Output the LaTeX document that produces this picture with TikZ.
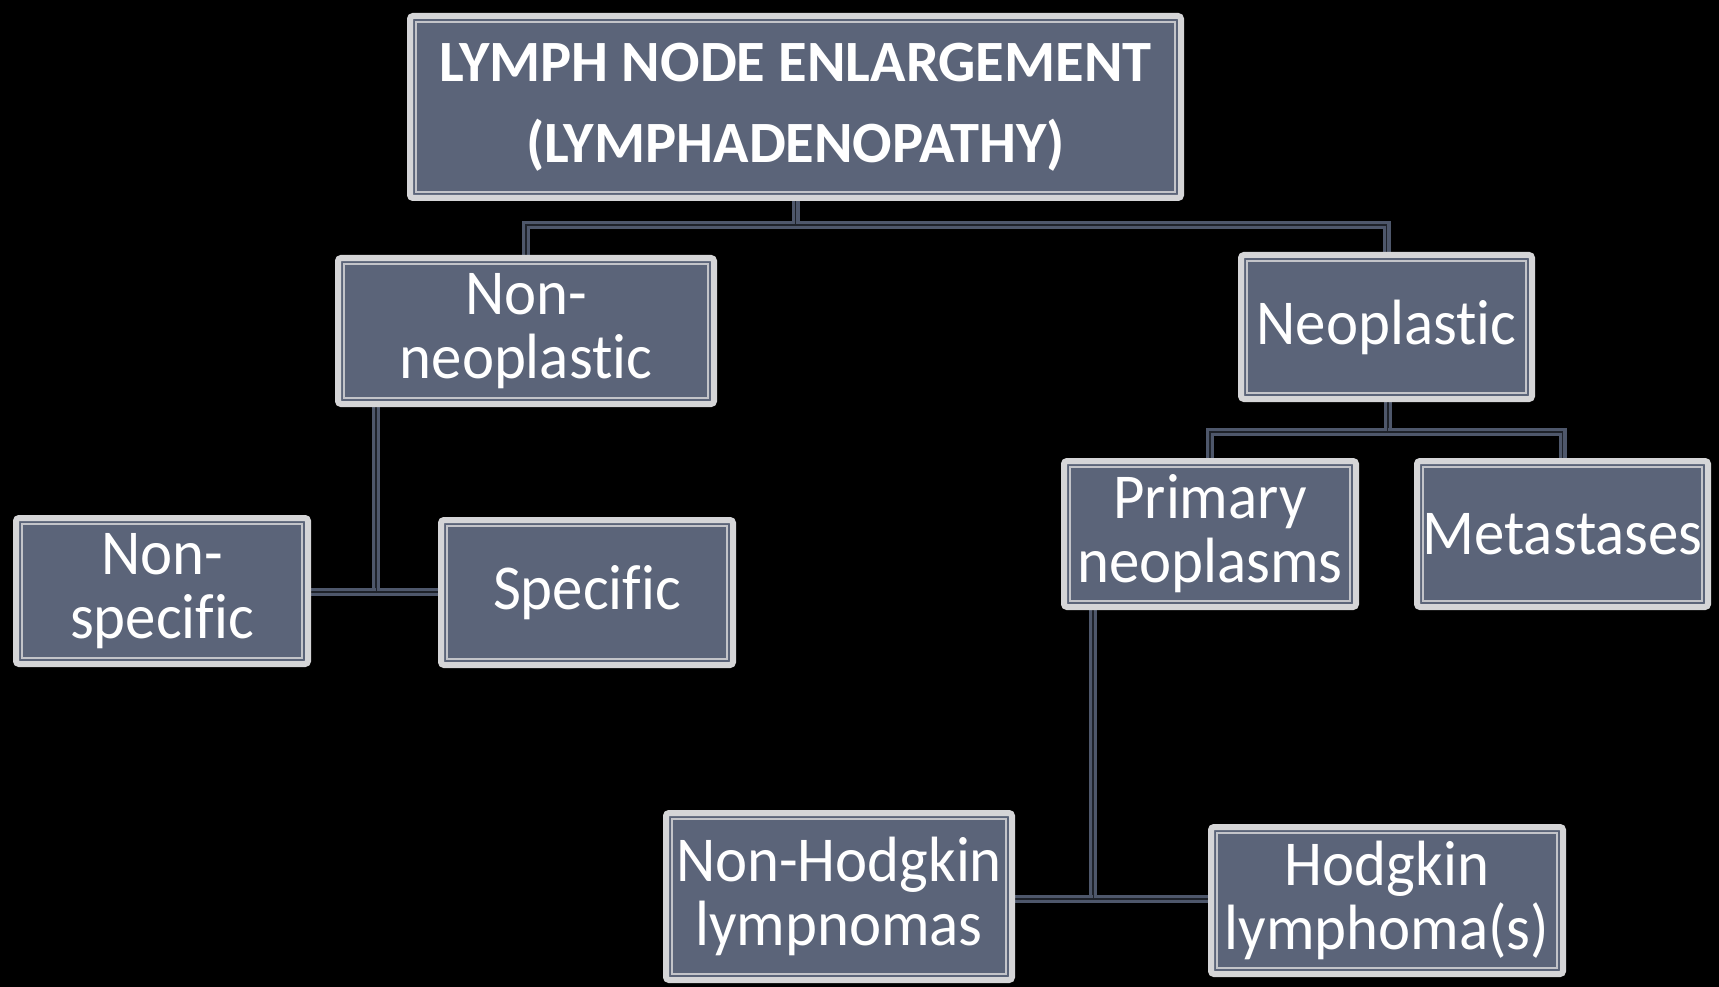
\documentclass[tikz,border=0pt]{standalone}
\usepackage{fontspec}
\setmainfont[Ligatures=NoCommon]{Carlito}
\newfontfamily\bodyfont[FakeStretch=0.95,Ligatures=NoCommon]{Carlito}
\definecolor{slate}{HTML}{5B6479}
\definecolor{rim}{HTML}{D5D5D7}
\definecolor{connC}{HTML}{4E576B}
\definecolor{gapC}{HTML}{1E222A}
\pgfdeclarelayer{bg}
\pgfdeclarelayer{conns}
\pgfsetlayers{bg,conns,main}
\begin{document}
\begin{tikzpicture}[x=1pt,y=-1pt,
 box/.style={fill=slate, draw=rim, line width=6pt, rounded corners=3pt, outer sep=0pt, inner sep=0pt,
   align=center, text=white, font=\bodyfont\fontsize{64}{64}\selectfont},
 innerline/.style={draw=rim!85!slate, line width=1.5pt},
 conn/.style={draw=connC, double=gapC, double distance=1.4pt, line width=3.3pt}]
\begin{pgfonlayer}{bg}
\fill[black] (0,0) rectangle (1719,987);
\end{pgfonlayer}
\useasboundingbox (0,0) rectangle (1719,987);

\node[box, minimum width=771, minimum height=182, font=\fontsize{58.5}{81}\selectfont\bfseries] (title) at (795.5,107) {LYMPH NODE ENLARGEMENT\\(LYMPHADENOPATHY)};
\node[box, minimum width=376, minimum height=146] (nonneo) at (526,331) {Non-\\neoplastic};
\node[box, minimum width=291, minimum height=144] (neo) at (1386.5,327) {Neoplastic};
\node[box, minimum width=292, minimum height=146] (nonspec) at (162,591) {Non-\\specific};
\node[box, minimum width=292, minimum height=145] (spec) at (587,592.5) {Specific};
\node[box, minimum width=292, minimum height=146] (primary) at (1210,534) {Primary\\neoplasms};
\node[box, minimum width=291, minimum height=146] (meta) at (1562.5,534) {Metastases};
\node[box, minimum width=346, minimum height=167] (nhl) at (839,896.5) {Non-Hodgkin\\lympnomas};
\node[box, minimum width=352, minimum height=147] (hl) at (1387,900.5) {Hodgkin\\lymphoma(s)};

\foreach \n in {title,nonneo,neo,nonspec,spec,primary,meta,nhl,hl}
  \draw[innerline] ([shift={(6,6)}]\n.north west) rectangle ([shift={(-6,-6)}]\n.south east);

\begin{pgfonlayer}{conns}
\coordinate (j1) at (795.5,225);
\coordinate (j2) at (376,592);
\coordinate (j3) at (1388,432);
\coordinate (j4) at (1093,899);
\draw[conn] (title.south) -- (j1) -| (nonneo.north);
\draw[conn] (j1) -| (neo.north);
\draw[conn] (nonneo.south -| j2) -- (j2) -- (spec.west |- j2);
\draw[conn] (j2) -- (nonspec.east |- j2);
\draw[conn] (neo.south -| j3) -- (j3) -| (primary.north);
\draw[conn] (j3) -| (meta.north);
\draw[conn] (primary.south -| j4) -- (j4) -- (hl.west |- j4);
\draw[conn] (j4) -- (nhl.east |- j4);
\end{pgfonlayer}
\end{tikzpicture}
\end{document}
